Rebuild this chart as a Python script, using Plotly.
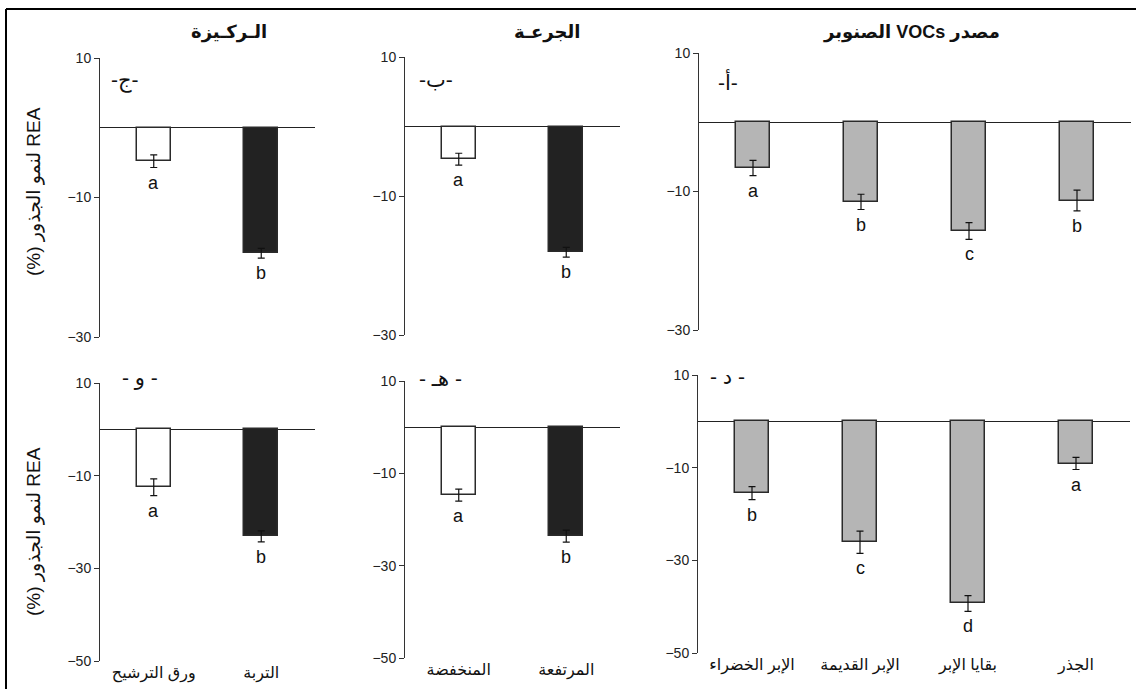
import plotly.graph_objects as go

# ---- data ----
substrate_cats = ["ورق الترشيح", "التربة"]
substrate_top = [-4.8, -18.0]
substrate_top_err = [0.9, 0.7]
substrate_bot = [-12.5, -23.1]
substrate_bot_err = [1.8, 1.2]

dose_cats = ["المنخفضة", "المرتفعة"]
dose_top = [-4.7, -18.1]
dose_top_err = [0.85, 0.7]
dose_bot = [-14.7, -23.6]
dose_bot_err = [1.3, 1.3]

source_cats = ["الإبر الخضراء", "الإبر القديمة", "بقايا الإبر", "الجذر"]
source_top = [-6.6, -11.5, -15.7, -11.3]
source_top_err = [1.1, 1.1, 1.2, 1.5]
source_bot = [-15.5, -26.1, -39.3, -9.1]
source_bot_err = [1.4, 2.4, 1.7, 1.3]

two_bar_letters = ["a", "b"]
source_top_letters = ["a", "b", "c", "b"]
source_bot_letters = ["b", "c", "d", "a"]

titles = ["الـركـيزة", "الجرعـة", "\u202bمصدر VOCs الصنوبر\u202c"]
panel_tags = ["-ج-", "-ب-", "-أ-", "- و -", "- هـ -", "- د -"]
y_title = "\u202bREA لنمو الجذور (%)\u202c"

W, H = 1136, 697
# vertical placement: the drawing area starts 8 px down and is 681 px tall
TOP_OFF, DRAW_H = 8, 681
FONT = "Liberation Sans, DejaVu Sans, sans-serif"

WHITE = "#ffffff"
BLACK = "#222222"
GREY = "#b5b5b5"


def px(x):
    return x / W


def py(y):
    return 1 - (y - TOP_OFF) / DRAW_H


# panel geometry in pixels: (x0, x1, y_top, y_bottom)
panels = [
    (1, substrate_cats, substrate_top, substrate_top_err, [WHITE, BLACK], two_bar_letters, -30, (100, 315, 58, 337)),
    (2, dose_cats, dose_top, dose_top_err, [WHITE, BLACK], two_bar_letters, -30, (405, 620, 57, 335)),
    (3, source_cats, source_top, source_top_err, [GREY] * 4, source_top_letters, -30, (699, 1131, 53, 330)),
    (4, substrate_cats, substrate_bot, substrate_bot_err, [WHITE, BLACK], two_bar_letters, -50, (100, 315, 383, 661)),
    (5, dose_cats, dose_bot, dose_bot_err, [WHITE, BLACK], two_bar_letters, -50, (405, 620, 381, 658)),
    (6, source_cats, source_bot, source_bot_err, [GREY] * 4, source_bot_letters, -50, (698, 1130, 375, 653)),
]

fig = go.Figure()
layout = dict(
    width=W, height=H,
    margin=dict(l=0, r=0, t=0, b=0),
    paper_bgcolor="white", plot_bgcolor="white",
    showlegend=False,
    font=dict(family=FONT, color="#111"),
    bargap=0.0,
)
annotations = []

for idx, cats, vals, errs, colors, letters, ymin, (x0, x1, yt, yb) in panels:
    sfx = "" if idx == 1 else str(idx)
    xa, ya = "x" + sfx, "y" + sfx
    nbar = len(cats)
    width = 0.32 if nbar == 2 else 0.31
    fig.add_trace(go.Bar(
        x=cats, y=vals, xaxis=xa, yaxis=ya,
        width=[width] * nbar,
        marker=dict(color=colors, line=dict(color="#2a2a2a", width=1.5)),
        error_y=dict(type="data", array=errs, color="#111", thickness=1.2, width=3.5),
        hoverinfo="skip",
    ))
    bottom_row = idx > 3
    layout["xaxis" + sfx] = dict(
        domain=[px(x0), px(x1)], anchor=ya,
        type="category", range=[-0.5, nbar - 0.5],
        showline=False, showgrid=False, zeroline=False, ticks="",
        showticklabels=bottom_row,
        tickfont=dict(size=16, family=FONT, color="#111"),
        fixedrange=True,
    )
    tickvals = [10, -10, -30] if ymin == -30 else [10, -10, -30, -50]
    layout["yaxis" + sfx] = dict(
        domain=[py(yb), py(yt)], anchor=xa,
        range=[ymin, 10], tickvals=tickvals,
        showline=True, linecolor="#333", linewidth=1,
        ticks="outside", ticklen=5, tickcolor="#333",
        showgrid=False, zeroline=True, zerolinecolor="#222", zerolinewidth=1.2,
        tickfont=dict(size=14, family=FONT, color="#222"),
        fixedrange=True,
    )
    # significance letters below each error bar
    for c, v, e, t in zip(cats, vals, errs, letters):
        annotations.append(dict(
            x=c, y=v - e, xref=xa, yref=ya, text=t, showarrow=False,
            yanchor="top", yshift=-3, font=dict(size=18, family=FONT, color="#111"),
        ))

# column titles
for t, cx in zip(titles, [229, 547, 911]):
    annotations.append(dict(
        x=px(cx), y=py(33), xref="paper", yref="paper", text="<b>" + t + "</b>",
        showarrow=False, xanchor="center", yanchor="middle",
        font=dict(size=18, family=FONT, color="#111"),
    ))

# panel tags
for t, (cx, cy) in zip(panel_tags, [(125, 80), (436, 79), (728, 82), (140, 378), (440, 378), (727, 376)]):
    annotations.append(dict(
        x=px(cx), y=py(cy), xref="paper", yref="paper", text=t,
        showarrow=False, xanchor="center", yanchor="middle",
        font=dict(size=21, family=FONT, color="#111"),
    ))

# shared y-axis titles
for cy in [192, 532]:
    annotations.append(dict(
        x=px(34), y=py(cy), xref="paper", yref="paper", text=y_title,
        showarrow=False, textangle=-90, xanchor="center", yanchor="middle",
        font=dict(size=19, family=FONT, color="#111"),
    ))

layout["annotations"] = annotations
layout["shapes"] = [
    dict(type="line", xref="paper", yref="paper", x0=px(6), x1=1, y0=py(9), y1=py(9),
         line=dict(color="black", width=2)),
    dict(type="line", xref="paper", yref="paper", x0=px(6), x1=px(6), y0=py(9), y1=0,
         line=dict(color="black", width=2)),
]
fig.update_layout(**layout)
fig.write_html("out.html")
